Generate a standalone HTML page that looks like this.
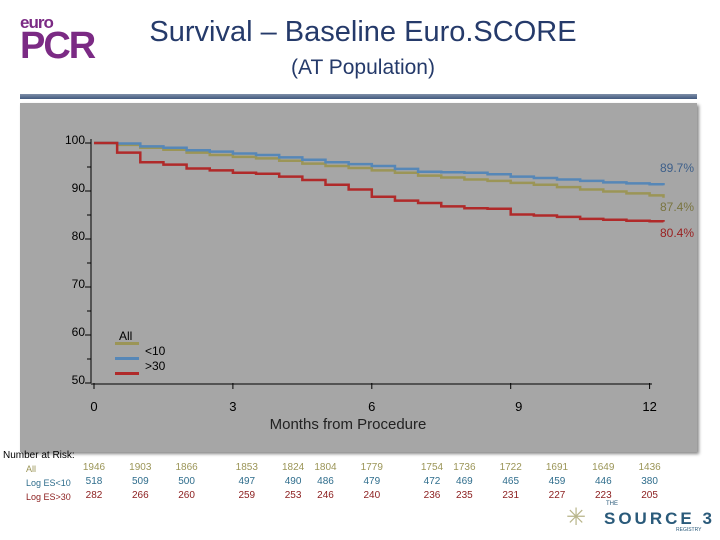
<!DOCTYPE html>
<html><head><meta charset="utf-8"><style>
body{margin:0;width:720px;height:540px;background:#fff;position:relative;overflow:hidden;font-family:"Liberation Sans",sans-serif}
.a{position:absolute;white-space:nowrap}
</style></head><body>
<div class="a" style="left:20px;top:14px;color:#7b2a84;line-height:1">
<div style="font-size:17px;font-weight:bold;letter-spacing:-1px">euro</div>
<div style="font-size:38px;font-weight:bold;letter-spacing:-2px;margin-top:-4px">PCR</div></div>
<div class="a" style="left:0;width:726px;text-align:center;top:16px;font-size:29px;color:#253a6a">Survival – Baseline Euro.SCORE</div>
<div class="a" style="left:0;width:726px;text-align:center;top:56px;font-size:21px;color:#253a6a">(AT Population)</div>
<div class="a" style="left:20px;top:94px;width:677px;height:5px;background:linear-gradient(#7f8fa8,#42597f)"></div>
<div class="a" style="left:20px;top:103px;width:677px;height:349px;background:#a6a6a6;box-shadow:2px 2px 3px #888"></div>
<svg class="a" style="left:0;top:0" width="720" height="540" font-family="Liberation Sans, sans-serif">
<g id="axes"></g><g id="lines"></g>
</svg>
<div class="a" style="left:3px;top:450px;font-size:10px;color:#000">Number at Risk:</div>
<div id="risk"></div>
<div class="a" style="left:566px;top:503px;">
<span style="color:#b8b58a;font-size:24px;letter-spacing:-3px">✳</span>
<span style="position:absolute;left:40px;top:-2px;font-size:6px;color:#2a5a7a">THE</span>
<span style="position:absolute;left:38px;top:6px;font-size:17px;letter-spacing:3px;color:#2a5a7a;font-weight:bold">SOURCE 3</span>
<span style="position:absolute;left:110px;top:24px;font-size:5px;color:#2a5a7a">REGISTRY</span></div>
<script>
const months=[0,0.5,1,1.5,2,2.5,3,3.5,4,4.5,5,5.5,6,6.5,7,7.5,8,8.5,9,9.5,10,10.5,11,11.5,12,12.3];
const allVals=[100,99.6,99.0,98.6,98.0,97.5,97.1,96.8,96.3,95.7,95.2,94.8,94.3,93.8,93.2,92.8,92.4,92.1,91.7,91.3,90.8,90.3,89.9,89.5,89.1,88.6];
const lowVals=[100,99.9,99.3,99.0,98.5,98.2,97.8,97.5,97.0,96.5,96.0,95.6,95.2,94.6,94.0,93.9,93.8,93.5,93.0,92.7,92.4,92.1,91.8,91.6,91.4,91.2];
const highVals=[100,98,96,95.5,94.7,94.3,93.8,93.6,93,92.3,91.3,90.3,88.8,88,87.5,86.8,86.4,86.3,85.1,84.9,84.6,84.2,84,83.8,83.7,83.6];
const yTicks=[50,60,70,80,90,100];
const xTicks=[0,3,6,9,12];
const endLabels=["89.7%","87.4%","80.4%"];
const riskCols=[0,1,2,3.3,4.3,5,6,7.3,8,9,10,11,12];
const riskAll=[1946,1903,1866,1853,1824,1804,1779,1754,1736,1722,1691,1649,1436];
const riskLow=[518,509,500,497,490,486,479,472,469,465,459,446,380];
const riskHigh=[282,266,260,259,253,246,240,236,235,231,227,223,205];
const NS="http://www.w3.org/2000/svg";
const X=m=>94+m*46.3, Y=v=>143+(100-v)*4.8;
const ax=document.getElementById('axes'), ln=document.getElementById('lines');
function mk(t,at,p){const e=document.createElementNS(NS,t);for(const k in at)e.setAttribute(k,at[k]);p.appendChild(e);return e;}
let e=mk('line',{x1:91,y1:139,x2:91,y2:Y(50),stroke:'#000'},ax);


e=mk('line',{x1:91,y1:Y(50)+1,x2:652,y2:Y(50)+1,stroke:'#000'},ax);


yTicks.forEach(v=>{mk('line',{x1:85,x2:91,y1:Y(v),y2:Y(v),stroke:'#000'},ax);
 if(v<100)mk('line',{x1:87,x2:91,y1:Y(v+5),y2:Y(v+5),stroke:'#000'},ax);
 const t=mk('text',{x:85,y:Y(v)+1,'text-anchor':'end','font-size':12,fill:'#000'},ax);t.textContent=v;
 
 });
xTicks.forEach(m=>{mk('line',{x1:X(m),x2:X(m),y1:Y(50),y2:Y(50)+6,stroke:'#000'},ax);
 const t=mk('text',{x:X(m)+(m==9?8:0),y:411,'text-anchor':'middle','font-size':13,fill:'#000'},ax);t.textContent=m;
 
 });
let xt=mk('text',{x:348,y:429,'text-anchor':'middle','font-size':15,fill:'#222'},ax);xt.textContent='Months from Procedure';


function step(vals,c,name){let d='M'+X(months[0])+','+Y(vals[0]);
 for(let i=1;i<months.length;i++){d+=' H'+X(months[i])+' V'+Y(vals[i]);}
 const p=mk('path',{d:d,fill:'none',stroke:c,'stroke-width':2.5},ln);
 
 }
step(allVals,'#9b9557','line-all');step(lowVals,'#5687b7','line-es-lt10');step(highVals,'#b02a2a','line-es-gt30');
[['#3d5f8a',172],['#7a7540',211],['#9a1f1f',237]].forEach((c,i)=>{const t=mk('text',{x:694,y:c[1],'text-anchor':'end','font-size':12,fill:c[0]},ln);t.textContent=endLabels[i];
 
 });
[['#9b9557','All',340],['#5687b7','<10',355],['#b02a2a','>30',370]].forEach(l=>{mk('rect',{x:115,y:l[2]+2,width:24,height:3,fill:l[0]},ln);
 const t=mk('text',{x:l[1]=='All'?119:145,y:l[2],'font-size':12,fill:'#000'},ln);t.textContent=l[1];
 
 });
const rk=document.getElementById('risk');
function row(lbl,vals,c,y,name){const d=document.createElement('div');d.className='a';d.style.cssText=`left:26px;top:${y}px;font-size:9px;color:${c}`;d.textContent=lbl;
 
 rk.appendChild(d);
 vals.forEach((v,i)=>{const s=document.createElement('div');s.className='a';s.style.cssText=`left:${X(riskCols[i])-20}px;width:40px;text-align:center;top:${y-2}px;font-size:10px;color:${c}`;s.textContent=v;
 
 rk.appendChild(s);});}
row('All',riskAll,'#9b9557',464,'risk-all');row('Log ES<10',riskLow,'#2f6d8c',478,'risk-low');row('Log ES>30',riskHigh,'#8b1d1d',492,'risk-high');
</script>
</body></html>
